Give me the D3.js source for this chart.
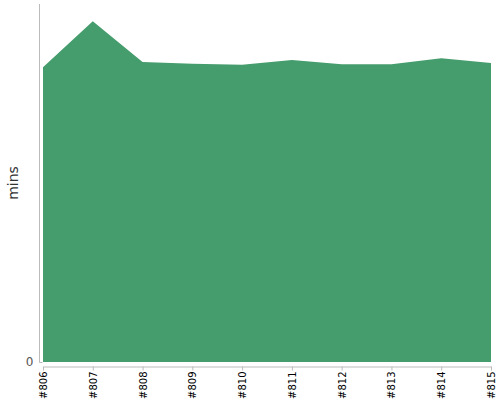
<!DOCTYPE html>
<html>
<head>
<meta charset="utf-8">
<script src="https://cdn.jsdelivr.net/npm/d3@7"></script>
<style>
  body { margin: 0; background: #fff; }
  svg { display: block; }
</style>
</head>
<body>
<svg id="chart" width="500" height="400"></svg>
<script>
// data
const builds = ["#806", "#807", "#808", "#809", "#810", "#811", "#812", "#813", "#814", "#815"];
const mins = [49.4, 57.1, 50.3, 50.0, 49.8, 50.6, 49.9, 49.9, 50.9, 50.1];
const yTicks = [0];

const svg = d3.select("#chart");

const x = d3.scalePoint().domain(builds).range([43, 491]);
const y = d3.scaleLinear().domain([0, 60]).range([362, 4]);

// area
const area = d3.area()
  .x((d, i) => x(builds[i]))
  .y0(y(0))
  .y1(d => y(d));

svg.append("path")
  .datum(mins)
  .attr("d", area)
  .attr("fill", "#459c6d");

// y axis
const yAxis = svg.append("g")
  .attr("transform", "translate(39.5,0)")
  .call(d3.axisLeft(y).tickValues(yTicks).tickSize(-3).tickPadding(6));
yAxis.select(".domain").attr("stroke", "#bbb").attr("d", "M0,4V362.5");
yAxis.selectAll(".tick line").attr("stroke", "#bbb");
yAxis.selectAll(".tick text")
  .attr("font-family", "DejaVu Sans, sans-serif")
  .attr("font-size", 12)
  .attr("fill", "#555");

// x axis
const xAxis = svg.append("g")
  .attr("transform", "translate(0,366.5)")
  .call(d3.axisBottom(x).tickSize(4).tickSizeOuter(0));
xAxis.select(".domain").attr("stroke", "#bbb");
xAxis.selectAll(".tick line").attr("stroke", "#bbb");
xAxis.selectAll(".tick text")
  .attr("font-family", "DejaVu Sans, sans-serif")
  .attr("font-size", 10)
  .attr("fill", "#000")
  .attr("text-anchor", "end")
  .attr("transform", "rotate(-90)")
  .attr("x", -5)
  .attr("y", 0)
  .attr("dy", "0.35em");

// y label
svg.append("text")
  .attr("transform", "translate(18,183) rotate(-90)")
  .attr("text-anchor", "middle")
  .attr("font-family", "DejaVu Sans, sans-serif")
  .attr("font-size", 14)
  .attr("fill", "#333")
  .text("mins");
</script>
</body>
</html>
